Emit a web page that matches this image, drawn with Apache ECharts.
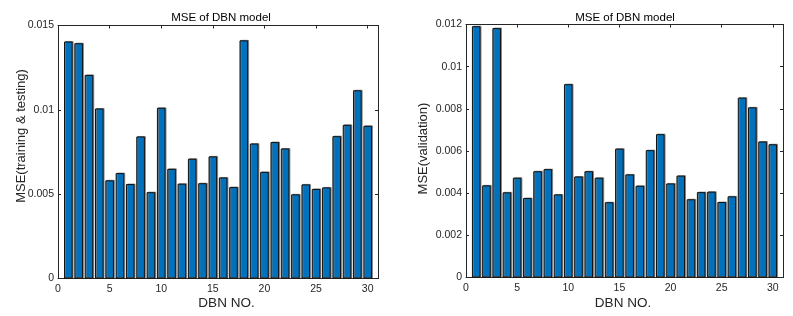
<!DOCTYPE html>
<html>
<head>
<meta charset="utf-8">
<script src="https://cdn.jsdelivr.net/npm/echarts@6/dist/echarts.min.js"></script>
<style>
html,body{margin:0;padding:0;background:#fff;}
#chart{width:793px;height:316px;}
</style>
</head>
<body>
<div id="chart"></div>
<script>
// ---- data ----
const dbnNo = [1,2,3,4,5,6,7,8,9,10,11,12,13,14,15,16,17,18,19,20,21,22,23,24,25,26,27,28,29,30];
const mseTrainTest = [0.01405,0.01395,0.01207,0.01008,0.00582,0.00625,0.0056,0.00842,0.00512,0.01012,
  0.0065,0.00562,0.0071,0.00565,0.00724,0.00599,0.00542,0.01412,0.008,0.00632,
  0.00809,0.00771,0.00499,0.00558,0.00531,0.0054,0.00844,0.00911,0.01116,0.00905];
const mseValidation = [0.01192,0.00437,0.01183,0.00404,0.00473,0.00377,0.00504,0.00514,0.00394,0.00917,
  0.00479,0.00504,0.00473,0.00357,0.00611,0.00489,0.00435,0.00604,0.0068,0.00446,
  0.00483,0.00371,0.00405,0.00407,0.00358,0.00385,0.00853,0.00807,0.00645,0.00632];
const xTicks = [0,5,10,15,20,25,30];
const yTicksLeft = ['0','0.005','0.01','0.015'];
const yTicksRight = ['0','0.002','0.004','0.006','0.008','0.01','0.012'];
const titleText = 'MSE of DBN model';
const xName = 'DBN NO.';
const yNameLeft = 'MSE(training & testing)';
const yNameRight = 'MSE(validation)';

const FONT = 'Liberation Sans';
const TXT = '#262626';
const AX = '#262626';

function pairs(vals){ return dbnNo.map((d,i)=>[d, vals[i]]); }

function xAxes(gi){
  const base = {
    type:'value', gridIndex:gi, min:0, max:31, interval:5,
    axisLine:{show:true, onZero:false, lineStyle:{color:AX, width:1}},
    axisTick:{show:true, inside:true, length:3, lineStyle:{color:AX}},
    splitLine:{show:false}
  };
  return [
    Object.assign({}, base, {position:'bottom',
      axisLabel:{show:true, color:TXT, fontFamily:FONT, fontSize:10.5, margin:5,
        formatter:v=> xTicks.indexOf(v)>=0 ? String(v) : ''}}),
    Object.assign({}, base, {position:'top', axisLabel:{show:false}})
  ];
}
function yAxes(gi, max, interval, labels){
  const base = {
    type:'value', gridIndex:gi, min:0, max:max, interval:interval,
    axisLine:{show:true, onZero:false, lineStyle:{color:AX, width:1}},
    axisTick:{show:true, inside:true, length:3, lineStyle:{color:AX}},
    splitLine:{show:false}
  };
  return [
    Object.assign({}, base, {position:'left',
      axisLabel:{show:true, color:TXT, fontFamily:FONT, fontSize:10.5, margin:4,
        formatter:v=> labels[Math.round(v/interval)] || ''}}),
    Object.assign({}, base, {position:'right', axisLabel:{show:false}})
  ];
}

const barStyle = {
  color:'#0072BD', borderColor:'#111', borderWidth:1,
  shadowColor:'rgba(120,120,120,0.8)', shadowOffsetX:1, shadowOffsetY:-0.5, shadowBlur:0
};

function txt(x, y, s, size, color, rot){
  const o = {type:'text', x:x, y:y, style:{text:s, fill:color, fontFamily:FONT, fontSize:size, align:'center', verticalAlign:'middle'}};
  if (rot) o.rotation = rot;
  return o;
}

const chart = echarts.init(document.getElementById('chart'), null, {renderer:'canvas'});
chart.setOption({
  animation:false,
  backgroundColor:'#fff',
  grid:[
    {left:58, top:25.5, width:320, height:253},
    {left:466, top:24.5, width:317, height:253}
  ],
  xAxis:[].concat(xAxes(0), xAxes(1)),
  yAxis:[].concat(yAxes(0, 0.015, 0.005, yTicksLeft), yAxes(1, 0.012, 0.002, yTicksRight)),
  series:[
    {type:'bar', xAxisIndex:0, yAxisIndex:0, data:pairs(mseTrainTest), barWidth:8.6, itemStyle:barStyle, silent:true},
    {type:'bar', xAxisIndex:2, yAxisIndex:2, data:pairs(mseValidation), barWidth:8.6, itemStyle:barStyle, silent:true}
  ],
  graphic:[
    txt(221, 17.5, titleText, 11.5, '#000'),
    txt(625, 17.5, titleText, 11.5, '#000'),
    txt(226.5, 303, xName, 13.5, TXT),
    txt(623, 303, xName, 13.5, TXT),
    txt(21.5, 136, yNameLeft, 13, TXT, Math.PI/2),
    txt(423.5, 148.5, yNameRight, 13, TXT, Math.PI/2)
  ]
});
</script>
</body>
</html>
